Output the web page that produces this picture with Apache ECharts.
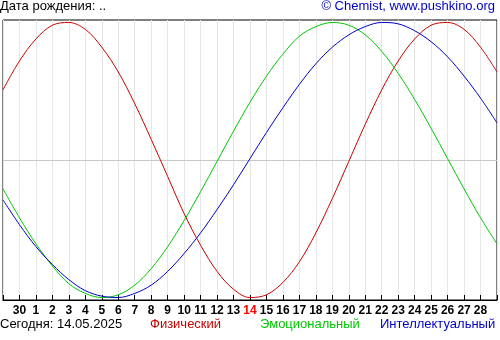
<!DOCTYPE html>
<html>
<head>
<meta charset="utf-8">
<script src="https://cdn.jsdelivr.net/npm/echarts@6/dist/echarts.min.js"></script>
<style>
  html, body { margin: 0; padding: 0; background: #fff; }
  #chart { width: 500px; height: 340px; }
</style>
</head>
<body>
<div id="chart"></div>
<script>
// Day offsets from 29.04 (0) to 29.05 (30)
const days = [0,1,2,3,4,5,6,7,8,9,10,11,12,13,14,15,16,17,18,19,20,21,22,23,24,25,26,27,28,29,30];
// Day-of-month label under each offset
const tickLabels = ['29','30','1','2','3','4','5','6','7','8','9','10','11','12','13','14','15','16','17','18','19','20','21','22','23','24','25','26','27','28','29'];
const todayLabel = '14';

// Biorhythm levels, percent (-100 .. 100)
const physical = [51,72,88,98,100,95,82,64,41,15,-12,-39,-62,-81,-94,-100,-98,-89,-74,-53,-28,-1,26,51,72,88,98,100,95,82,64];
const emotional = [-21,-42,-61,-77,-90,-97,-100,-98,-91,-79,-63,-44,-23,-1,21,42,61,77,90,97,100,98,91,79,63,44,23,1,-21,-42,-61];
const intellectual = [-29,-47,-63,-76,-87,-95,-99,-100,-97,-91,-81,-68,-53,-36,-18,1,20,38,55,70,82,91,97,100,99,94,86,75,61,45,27];

const RED = '#cc0000', GREEN = '#00c800', BLUE = '#0000cc';

const pairs = vals => days.map((d, i) => [d, vals[i]]);

const chart = echarts.init(document.getElementById('chart'), null, { renderer: 'canvas' });

chart.setOption({
  animation: false,
  backgroundColor: '#fff',
  grid: { left: 0, right: 1, top: 20, bottom: 40, show: true, borderColor: '#000', borderWidth: 1, backgroundColor: 'transparent' },
  xAxis: {
    type: 'value', min: 0, max: 30, interval: 1,
    axisLine: { show: true, onZero: false, lineStyle: { color: '#000', width: 1 } },
    axisTick: { show: true, inside: true, length: 5, lineStyle: { color: '#000', width: 1 } },
    splitLine: { show: true, lineStyle: { color: '#e6e6e6', width: 1 } },
    axisLabel: {
      margin: 5,
      fontFamily: 'Liberation Sans', fontWeight: 'bold', fontSize: 12, color: '#000',
      formatter: v => {
        if (v <= 0 || v >= 30) return '';
        const t = tickLabels[v];
        return t === todayLabel ? '{r|' + t + '}' : t;
      },
      rich: { r: { color: '#ff0000', fontFamily: 'Liberation Sans', fontWeight: 'bold', fontSize: 12 } }
    }
  },
  yAxis: {
    type: 'value', min: -101.8, max: 101.8, show: false,
    splitLine: { show: false }
  },
  series: [
    {
      name: 'Физический', type: 'line', data: pairs(physical), smooth: 0.35,
      showSymbol: false, lineStyle: { color: RED, width: 1 }, z: 3,
      markLine: {
        silent: true, symbol: 'none', label: { show: false },
        lineStyle: { color: '#c8c8c8', type: 'solid', width: 1 },
        data: [{ yAxis: 0 }], z: 1
      }
    },
    { name: 'Эмоциональный', type: 'line', data: pairs(emotional), smooth: 0.35,
      showSymbol: false, lineStyle: { color: GREEN, width: 1 }, z: 3 },
    { name: 'Интеллектуальный', type: 'line', data: pairs(intellectual), smooth: 0.35,
      showSymbol: false, lineStyle: { color: BLUE, width: 1 }, z: 3 }
  ],
  graphic: [
    { type: 'text', left: 0, top: 0, style: { text: 'Дата рождения: ..', fontFamily: 'Liberation Sans', fontSize: 13, fill: '#000' } },
    { type: 'text', right: 5, top: 0, style: { text: '© Chemist, www.pushkino.org', fontFamily: 'Liberation Sans', fontSize: 13, fill: BLUE } },
    { type: 'text', left: 0, top: 318, style: { text: 'Сегодня: 14.05.2025', fontFamily: 'Liberation Sans', fontSize: 13, fill: '#000' } },
    { type: 'text', left: 150, top: 318, style: { text: 'Физический', fontFamily: 'Liberation Sans', fontSize: 13, fill: RED } },
    { type: 'text', left: 260, top: 318, style: { text: 'Эмоциональный', fontFamily: 'Liberation Sans', fontSize: 13, fill: GREEN } },
    { type: 'text', left: 380, top: 318, style: { text: 'Интеллектуальный', fontFamily: 'Liberation Sans', fontSize: 13, fill: BLUE } }
  ]
});
</script>
</body>
</html>
